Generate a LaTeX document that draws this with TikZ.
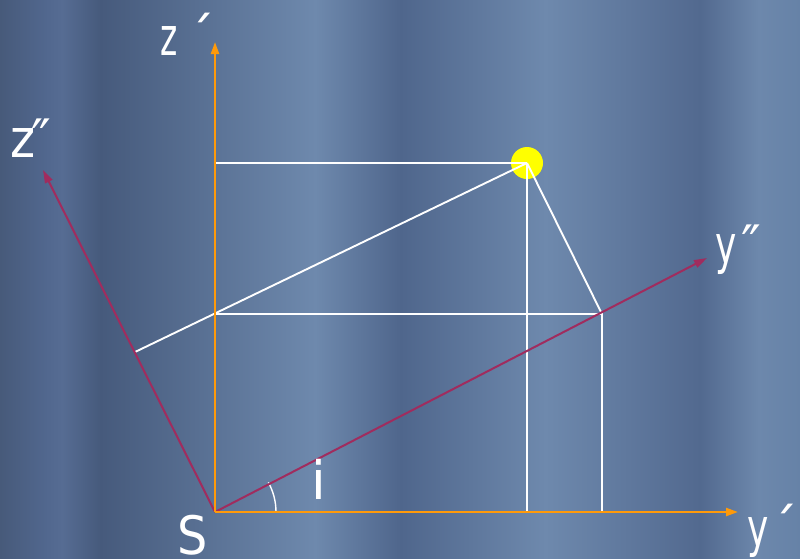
\documentclass[tikz,border=0pt]{standalone}
\usepackage{fontspec}
\newfontfamily\labfont{DejaVu Sans}
\usetikzlibrary{arrows.meta,calc}
\definecolor{axorange}{HTML}{FF9A0A}
\definecolor{axpurple}{HTML}{A02C5E}
\definecolor{dotyellow}{HTML}{FFFF00}
\definecolor{bgA}{HTML}{475A7A}
\definecolor{bgB}{HTML}{51678E}
\definecolor{bgC}{HTML}{566C93}
\definecolor{bgD}{HTML}{465A7C}
\definecolor{bgE}{HTML}{6E89AD}
\definecolor{bgF}{HTML}{4F668C}
\definecolor{bgG}{HTML}{6E89AD}
\definecolor{bgH}{HTML}{52698F}
\definecolor{bgI}{HTML}{6D88AC}
\definecolor{bgJ}{HTML}{6682A7}
\begin{document}
\begin{tikzpicture}[x=1pt,y=-1pt,
  lab/.style={text=white, inner sep=0pt, anchor=base west,
    font=\labfont\fontsize{53}{60}\selectfont},
  axo/.style={draw=axorange, line width=2.2pt, -{Triangle[length=12pt,width=8pt]}},
  axp/.style={draw=axpurple, line width=2pt, -{Triangle[length=13pt,width=8pt]}},
  wl/.style={draw=white, line width=1.9pt},
  bgband/.style={draw=none}
]
\useasboundingbox (0,0) rectangle (800,558);
% background bands
\foreach \xa/\xb/\ca/\cb in {0/45.5/bgA/bgB, 45/62.5/bgB/bgC, 62/100.5/bgC/bgD,
  100/315.5/bgD/bgE, 315/400.5/bgE/bgF, 400/545.5/bgF/bgG, 545/700.5/bgG/bgH,
  700/758.5/bgH/bgI, 758/800/bgI/bgJ}
  \shade[bgband, left color=\ca, right color=\cb] (\xa,0) rectangle (\xb,558);

% key points
\coordinate (S) at (215,512);
\coordinate (zpend) at (215,42);
\coordinate (ypend) at (738,512);
\coordinate (yppend) at (707,258);
\coordinate (zppend) at (43,170);
\coordinate (Pz) at (215,163);
\coordinate (Py) at (527,512);
\coordinate (Q) at (602,314);
\coordinate (Qz) at (215,314);
\coordinate (Qy) at (602,512);
\coordinate (R) at (135,352);

% star (yellow dot)
\node[circle, fill=dotyellow, minimum size=32pt, inner sep=0pt] (P) at (527,163) {};

% white construction lines
\draw[wl] (Pz) -- (P.center);
\draw[wl] (P.center) -- (Py);
\draw[wl] (P.center) -- (Q);
\draw[wl] (Qz) -- (Q) -- (Qy);
\draw[wl] (R) -- (P.center);

% angle arc
\draw[white, line width=1.4pt] (S) ++(61,0) arc[start angle=0, end angle=-29, radius=61];

% axes
\draw[axp] (S) -- (yppend);
\draw[axp] (S) -- (zppend);
\draw[axo] (S) -- (zpend);
\draw[axo] (S) -- (ypend);

% labels
\node[lab] (lzp) at (160,55) {\scalebox{0.62}[1]{z}\hspace{11pt}´};
\node[lab] (lzpp) at (10.5,157) {\scalebox{0.9}[1]{z}\hspace{-4pt}″};
\node[lab] (lypp) at (715,263) {\scalebox{0.68}[1]{y}\hspace{4.5pt}″};
\node[lab] (lyp) at (747,546) {\scalebox{0.68}[1]{y}\hspace{3pt}´};
\node[lab] (lS) at (177.5,554) {\scalebox{0.9}[1]{S}};
\node[lab] (li) at (311,499) {i};
\end{tikzpicture}
\end{document}
